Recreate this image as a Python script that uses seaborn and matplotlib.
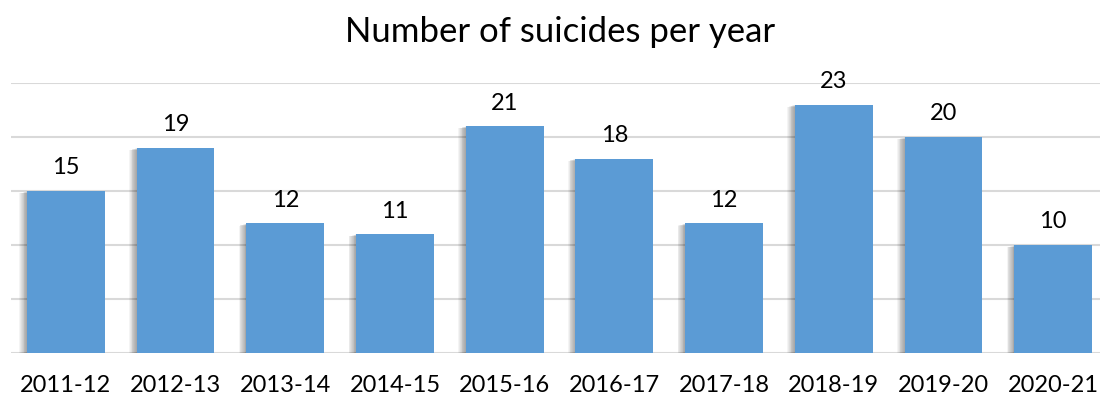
import matplotlib
matplotlib.use("Agg")
import matplotlib.pyplot as plt
import matplotlib.patheffects as pe
import seaborn as sns
import pandas as pd

years = ["2011-12", "2012-13", "2013-14", "2014-15", "2015-16",
         "2016-17", "2017-18", "2018-19", "2019-20", "2020-21"]
suicides = [15, 19, 12, 11, 21, 18, 12, 23, 20, 10]
y_ticks = [0, 5, 10, 15, 20, 25]

sns.set_theme(style="white")
plt.rcParams["font.family"] = ["Lato", "DejaVu Sans"]

df = pd.DataFrame({"year": years, "count": suicides})

fig = plt.figure(figsize=(11, 3.98), dpi=100)
ax = fig.add_axes([11 / 1100, 45 / 398, 1097 / 1100, 270 / 398])

sns.barplot(data=df, x="year", y="count", color="#5B9BD5", saturation=1,
            width=0.71, linewidth=0, edgecolor="none", ax=ax, zorder=3)

# soft drop shadow falling to the lower-left of each bar
steps = [0.6 * i for i in range(1, 10)]
shadow = [pe.SimplePatchShadow(offset=(-dx, -dx * 0.3), shadow_rgbFace="#000000",
                               alpha=0.045, rho=1.0) for dx in steps]
for bar in ax.patches:
    bar.set_path_effects(shadow + [pe.Normal()])

for bar, v in zip(ax.patches, suicides):
    ax.annotate(str(v), (bar.get_x() + bar.get_width() / 2, v),
                xytext=(0, 9), textcoords="offset points",
                ha="center", va="bottom", fontsize=17, color="#000000")

ax.set_ylim(0, 25)
ax.set_xlim(-0.5, len(years) - 0.5)
ax.set_yticks(y_ticks)
ax.set_yticklabels([])
ax.yaxis.grid(True, color="#D9D9D9", linewidth=1.5, zorder=0)
ax.set_axisbelow(True)
for s in ax.spines.values():
    s.set_visible(False)
ax.tick_params(axis="x", length=0, pad=16, labelsize=17, labelcolor="#000000")
ax.tick_params(axis="y", length=0)
ax.set_xlabel("")
ax.set_ylabel("")

fig.text(0.509, 0.92, "Number of suicides per year", ha="center", va="center",
         fontsize=25, color="#000000")

fig.savefig("out.png", dpi=100)
